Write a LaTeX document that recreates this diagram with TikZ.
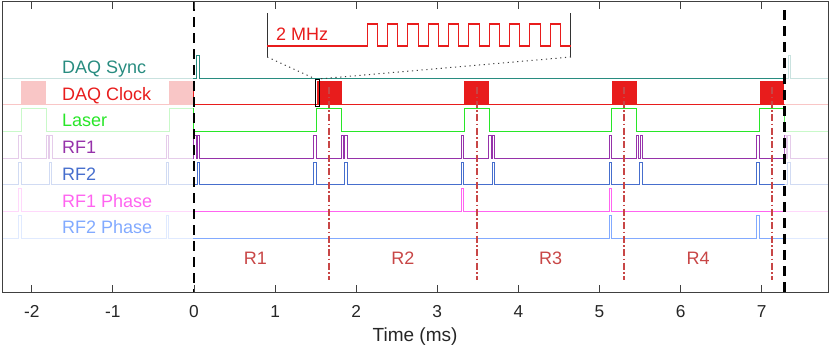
\documentclass[tikz,border=0pt]{standalone}
\usepackage{fontspec}
\setmainfont{Liberation Sans}
\definecolor{csync}{RGB}{40,140,128}
\definecolor{cclk}{RGB}{232,28,28}
\definecolor{claser}{RGB}{40,230,40}
\definecolor{crfone}{RGB}{150,50,170}
\definecolor{crftwo}{RGB}{70,110,205}
\definecolor{crfoneph}{RGB}{255,100,240}
\definecolor{crftwoph}{RGB}{130,170,255}
\definecolor{cregion}{RGB}{200,70,70}
\definecolor{caxis}{RGB}{64,64,64}
\definecolor{ctext}{RGB}{38,38,38}

\newcommand\allsignals[1]{%
  % DAQ Sync
  \draw[trace, csync!#1] (-2.367,78) -- (0.033,78) -- (0.033,55.5) -- (0.062,55.5) -- (0.062,78)
     -- (7.33,78) -- (7.33,55.5) -- (7.36,55.5) -- (7.36,78) -- (7.818,78);
  % DAQ Clock
  \draw[trace, cclk!#1] (-2.367,104.7) -- (7.818,104.7);
  \foreach \s in {-2.127,-0.307,1.513,3.333,5.153,6.973}
    \fill[cclk!#1] (\s,81.3) rectangle ({\s+0.307},104.7);
  % Laser
  \draw[trace, claser!#1] (-2.367,131.4)
    \foreach \s in {-2.127,-0.307,1.513,3.333,5.153,6.973}
      { -- (\s,131.4) -- (\s,108.7) -- ({\s+0.307},108.7) -- ({\s+0.307},131.4) }
    -- (7.818,131.4);
  % RF1
  \draw[trace, crfone!#1] (-2.367,158.1)
    \foreach \s in {-2.127,-0.307,1.513,3.333,5.153,6.973}
      { -- ({\s-0.035},158.1) -- ({\s-0.035},135.4) -- ({\s-0.006},135.4) -- ({\s-0.006},158.1)
        -- ({\s+0.304},158.1) -- ({\s+0.304},135.4) -- ({\s+0.332},135.4) -- ({\s+0.332},158.1)
        -- ({\s+0.347},158.1) -- ({\s+0.347},135.4) -- ({\s+0.377},135.4) -- ({\s+0.377},158.1) }
    -- (7.818,158.1);
  % RF2
  \draw[trace, crftwo!#1] (-2.367,184.8)
    \foreach \s in {-2.127,-0.307,1.513,3.333,5.153,6.973}
      { -- ({\s-0.035},184.8) -- ({\s-0.035},162.1) -- ({\s-0.006},162.1) -- ({\s-0.006},184.8)
        -- ({\s+0.346},184.8) -- ({\s+0.346},162.1) -- ({\s+0.376},162.1) -- ({\s+0.376},184.8) }
    -- (7.818,184.8);
  % RF1 Phase
  \draw[trace, crfoneph!#1] (-2.367,211.5)
    \foreach \s in {-2.127,3.333,5.153}
      { -- ({\s-0.035},211.5) -- ({\s-0.035},188.8) -- ({\s-0.006},188.8) -- ({\s-0.006},211.5) }
    -- (7.818,211.5);
  % RF2 Phase
  \draw[trace, crftwoph!#1] (-2.367,238.2)
    \foreach \s in {-2.127,-0.307,5.153,6.973}
      { -- ({\s-0.035},238.2) -- ({\s-0.035},215.5) -- ({\s-0.006},215.5) -- ({\s-0.006},238.2) }
    -- (7.818,238.2);
}

\begin{document}
\begin{tikzpicture}[x=81.1pt,y=-1pt,
  trace/.style={line width=1pt},
  regline/.style={cregion, line width=1.8pt, dash pattern=on 7pt off 2.5pt on 1.5pt off 2.5pt},
  vdash/.style={black, line width=2.2pt, dash pattern=on 10pt off 6pt},
  zoomdot/.style={black!75, line width=1pt, dash pattern=on 1.2pt off 3.6pt},
  siglabel/.style={anchor=base west, inner sep=0pt, font=\fontsize{18}{20}\selectfont},
  rlabel/.style={anchor=center, inner sep=0pt, text=cregion, font=\fontsize{18}{20}\selectfont},
  ticklabel/.style={anchor=base, inner sep=0pt, text=ctext, font=\fontsize{17.3}{19}\selectfont},
  axisline/.style={caxis, line width=0.8pt}
]
\useasboundingbox (-2.392,0) rectangle (7.842,348);

% faded full traces, then solid inside the window
\allsignals{25}
\begin{scope}
  \clip (-0.01,0) rectangle (7.281,300);
  \allsignals{100}
\end{scope}

% signal labels
\node[siglabel, text=csync] (lsync) at (-1.628,73.5) {DAQ Sync};
\node[siglabel, text=cclk] (lclk) at (-1.628,100.2) {DAQ Clock};
\node[siglabel, text=claser] (llaser) at (-1.628,126.9) {Laser};
\node[siglabel, text=crfone] (lrfone) at (-1.628,153.6) {RF1};
\node[siglabel, text=crftwo] (lrftwo) at (-1.628,180.3) {RF2};
\node[siglabel, text=crfoneph] (lrfoneph) at (-1.628,207.2) {RF1 Phase};
\node[siglabel, text=crftwoph] (lrftwoph) at (-1.628,233.9) {RF2 Phase};

% region lines and labels
\foreach \x in {1.666,3.486,5.306,7.126}
  \draw[regline] (\x,87) -- (\x,280);
\node[rlabel] (rone) at (0.757,258) {R1};
\node[rlabel] (rtwo) at (2.577,258) {R2};
\node[rlabel] (rthree) at (4.397,258) {R3};
\node[rlabel] (rfour) at (6.217,258) {R4};

% window markers
\draw[vdash] (0,1) -- (0,292);
\draw[vdash] (7.28,10) -- (7.28,292);

% axes
\draw[axisline] (-2.367,1) rectangle (7.818,292);
\foreach \t in {-2,...,7} {
  \draw[axisline] (\t,1) -- (\t,8.5);
  \draw[axisline] (\t,292) -- (\t,284.5);
  \node[ticklabel] (tick\t) at (\t,317.3) {\t};
}
\node[anchor=base, inner sep=0pt, text=ctext, font=\fontsize{19}{21}\selectfont] (xlabel) at (2.726,341.7) {Time (ms)};

% zoom inset
\coordinate (zl) at (0.903,57);
\coordinate (zr) at (4.648,57);
\draw[black!80, line width=1pt] (0.903,13) -- (zl);
\draw[black!80, line width=1pt] (4.648,13) -- (zr);
\draw[cclk, line width=1.1pt] (0.903,46) -- (2.136,46)
  \foreach \i in {0,...,9}
    { -- ({2.136+0.2507*\i},46) -- ({2.136+0.2507*\i},24) -- ({2.136+0.2507*\i+0.1255},24) -- ({2.136+0.2507*\i+0.1255},46) }
  -- (4.648,46);
\node[siglabel, text=cclk] (mhz) at (1.011,40) {2 MHz};
\node[draw=black, line width=0.8pt, inner sep=0pt, minimum width=3.3pt, minimum height=27.4pt] (zbox) at (1.521,93) {};
\draw[zoomdot] (zl) -- (zbox.north west);
\draw[zoomdot] (zr) -- (zbox.north east);
\end{tikzpicture}
\end{document}
